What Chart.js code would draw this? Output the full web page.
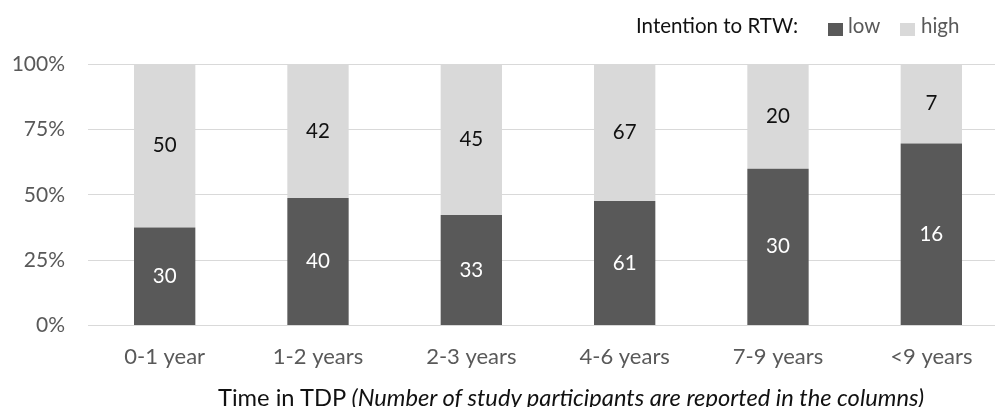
<!DOCTYPE html>
<html>
<head>
<meta charset="utf-8">
<script src="https://cdn.jsdelivr.net/npm/chart.js@4"></script>
<style>
  html, body { margin: 0; padding: 0; background: #fff; overflow: hidden; }
  #wrap { position: relative; width: 995px; height: 407px; overflow: hidden; }
  #box { position: absolute; left: 0; top: 0; width: 1010px; height: 407px; }
  .txt { position: absolute; font-family: Lato, "Open Sans", sans-serif; white-space: nowrap; line-height: 1; }
  .leg { top: 15px; font-size: 20.5px; }
  .sw { position: absolute; top: 23px; width: 15px; height: 13px; }
  #xtitle { left: 218px; top: 386px; font-size: 23.7px; color: #111; }
</style>
</head>
<body>
<div id="wrap">
  <div id="box"><canvas id="c"></canvas></div>
  <div class="txt leg" style="left:636px;color:#111">Intention to RTW:</div>
  <div class="sw" style="left:828px;background:#595959"></div>
  <div class="txt leg" style="left:848px;color:#595959">low</div>
  <div class="sw" style="left:900px;background:#d9d9d9"></div>
  <div class="txt leg" style="left:921px;color:#595959">high</div>
  <div id="xtitle" class="txt">Time in TDP <i>(Number of study participants are reported in the columns)</i></div>
</div>
<script>
// data
var categories = ['0-1 year', '1-2 years', '2-3 years', '4-6 years', '7-9 years', '<9 years'];
var lowCounts = [30, 40, 33, 61, 30, 16];
var highCounts = [50, 42, 45, 67, 20, 7];
var yTicks = [0, 25, 50, 75, 100];

// share of each column, for the 100% stack
var lowShare = lowCounts.map(function (v, i) { return v / (v + highCounts[i]) * 100; });
var highShare = highCounts.map(function (v, i) { return v / (lowCounts[i] + v) * 100; });

var FONT = 'Lato, "Open Sans", sans-serif';

// writes the participant counts in the middle of each segment
var countLabels = {
    id: 'countLabels',
    afterDatasetsDraw: function (chart) {
        var ctx = chart.ctx;
        ctx.save();
        ctx.font = '20.5px ' + FONT;
        ctx.textAlign = 'center';
        ctx.textBaseline = 'middle';
        chart.data.datasets.forEach(function (ds, di) {
            var meta = chart.getDatasetMeta(di);
            meta.data.forEach(function (bar, i) {
                var mid = (bar.y + bar.base) / 2;
                ctx.fillStyle = ds.labelColor;
                ctx.fillText(String(ds.counts[i]), bar.x, mid);
            });
        });
        ctx.restore();
    }
};

new Chart(document.getElementById('c'), {
    type: 'bar',
    data: {
        labels: categories,
        datasets: [
            { label: 'low', data: lowShare, counts: lowCounts, backgroundColor: '#595959', labelColor: '#ffffff' },
            { label: 'high', data: highShare, counts: highCounts, backgroundColor: '#d9d9d9', labelColor: '#111111' }
        ]
    },
    options: {
        responsive: true,
        maintainAspectRatio: false,
        animation: false,
        layout: { padding: { left: 0, right: 2, top: 64, bottom: 19 } },
        datasets: { bar: { barPercentage: 0.4, categoryPercentage: 1 } },
        plugins: { legend: { display: false }, tooltip: { enabled: false } },
        scales: {
            x: {
                stacked: true,
                grid: { display: false, drawTicks: false },
                border: { color: '#d9d9d9' },
                ticks: { color: '#595959', font: { family: FONT, size: 22 }, padding: 18 }
            },
            y: {
                stacked: true,
                min: 0,
                max: 100,
                afterBuildTicks: function (axis) {
                    axis.ticks = yTicks.map(function (v) { return { value: v }; });
                },
                afterFit: function (axis) { axis.width = 88; },
                grid: { color: '#d9d9d9', drawTicks: false },
                border: { display: false },
                ticks: {
                    color: '#595959',
                    font: { family: FONT, size: 21 },
                    padding: 23,
                    callback: function (v) { return v + '%'; }
                }
            }
        }
    },
    plugins: [countLabels]
});
</script>
</body>
</html>
